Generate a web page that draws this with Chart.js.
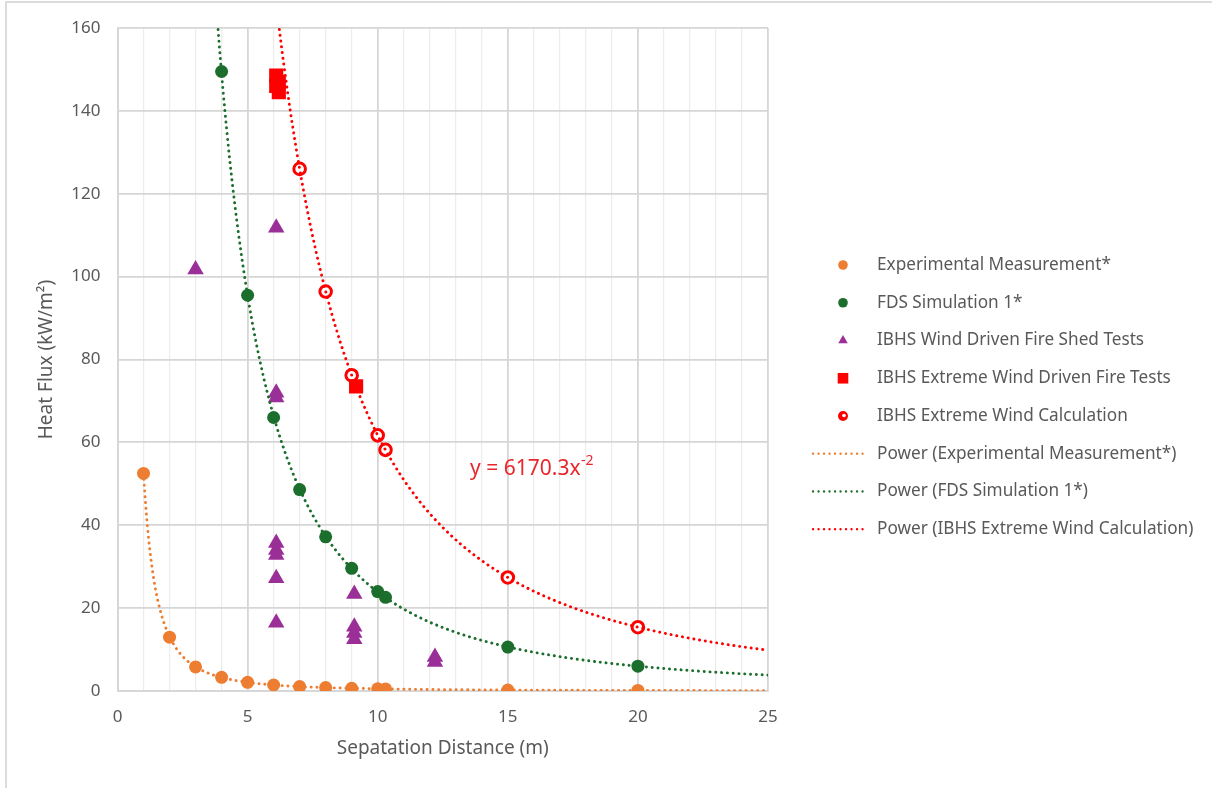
<!DOCTYPE html>
<html>
<head>
<meta charset="utf-8">
<script src="https://cdn.jsdelivr.net/npm/chart.js@4.4.1/dist/chart.umd.min.js"></script>
<style>
  body { margin: 0; background: #fff; }
  #frame { position: absolute; left: 5px; top: 1px; width: 1300px; height: 900px;
           border-top: 2px solid #dcdcdc; border-left: 2px solid #dcdcdc; }
  #chart { position: absolute; left: 0; top: 0; }
</style>
</head>
<body>
<div id="frame"></div>
<canvas id="chart" width="1212" height="788"></canvas>
<script>
// values
var expX = [1, 2, 3, 4, 5, 6, 7, 8, 9, 10, 10.3, 15, 20];
var expY = [52.5, 13, 5.8, 3.3, 2.1, 1.45, 1.07, 0.82, 0.65, 0.52, 0.5, 0.23, 0.13];

var fdsX = [4, 5, 6, 7, 8, 9, 10, 10.3, 15, 20];
var fdsY = [149.5, 95.5, 66, 48.6, 37.2, 29.6, 24, 22.6, 10.6, 6];

var shedX = [3, 6.1, 6.1, 6.1, 6.1, 6.1, 6.1, 6.1, 6.1, 9.1, 9.1, 9.1, 9.1, 12.2, 12.2];
var shedY = [101.7, 111.8, 72, 70.8, 35.7, 34, 32.8, 27.2, 16.5, 23.4, 15.5, 14, 12.5, 8.2, 7];

var fireX = [6.1, 6.1, 6.2, 6.2, 9.17];
var fireY = [148.5, 146, 144.5, 147, 73.5];

var calcX = [7, 8, 9, 10, 10.3, 15, 20];
var calcY = [126, 96.4, 76.2, 61.7, 58.2, 27.4, 15.4];

var xTicks = [0, 5, 10, 15, 20, 25];
var yTicks = [0, 20, 40, 60, 80, 100, 120, 140, 160];

var legendLabels = [
  'Experimental Measurement*',
  'FDS Simulation 1*',
  'IBHS Wind Driven Fire Shed Tests',
  'IBHS Extreme Wind Driven Fire Tests',
  'IBHS Extreme Wind Calculation',
  'Power (Experimental Measurement*)',
  'Power (FDS Simulation 1*)',
  'Power (IBHS Extreme Wind Calculation)'
];
var equationText = 'y = 6170.3x';
var equationSup = '-2';

var ORANGE = '#ed7d31';
var GREEN = '#1b6e2c';
var PURPLE = '#9a2f98';
var RED = '#ff0000';
var TEXT = '#595959';
var FONT = "'Noto Sans', 'Open Sans', sans-serif";

function toPoints(xs, ys){
  var pts = [];
  for(var i = 0; i < xs.length; i++){
    pts.push({x: xs[i], y: ys[i]});
  }
  return pts;
}

// least squares fit of y = a*x^b in log-log space (what Excel's power trendline does)
function powerTrend(xs, ys, fromX, toX){
  var n = xs.length, sx = 0, sy = 0, sxx = 0, sxy = 0;
  for(var i = 0; i < n; i++){
    var lx = Math.log(xs[i]), ly = Math.log(ys[i]);
    sx += lx; sy += ly; sxx += lx * lx; sxy += lx * ly;
  }
  var b = (n * sxy - sx * sy) / (n * sxx - sx * sx);
  var a = Math.exp((sy - b * sx) / n);
  var pts = [];
  for(var x = fromX; x <= toX + 1e-9; x += 0.05){
    pts.push({x: x, y: a * Math.pow(x, b)});
  }
  return pts;
}

function trendSet(label, color, pts){
  return {
    label: label,
    data: pts,
    showLine: true,
    pointRadius: 0,
    borderColor: color,
    backgroundColor: color,
    borderWidth: 2.9,
    borderDash: [0.1, 5.7],
    borderCapStyle: 'round',
    isTrend: true,
    order: 0
  };
}

var datasets = [
  {label: legendLabels[0], data: toPoints(expX, expY), pointStyle: 'circle', pointRadius: 6.5,
   backgroundColor: ORANGE, borderColor: ORANGE, borderWidth: 0, order: 1},
  {label: legendLabels[1], data: toPoints(fdsX, fdsY), pointStyle: 'circle', pointRadius: 6.5,
   backgroundColor: GREEN, borderColor: GREEN, borderWidth: 0, order: 1},
  {label: legendLabels[2], data: toPoints(shedX, shedY), pointStyle: 'triangle', pointRadius: 9.5,
   backgroundColor: PURPLE, borderColor: PURPLE, borderWidth: 0, order: 1},
  {label: legendLabels[3], data: toPoints(fireX, fireY), pointStyle: 'rect', pointRadius: 10,
   backgroundColor: RED, borderColor: RED, borderWidth: 0, order: 1},
  {label: legendLabels[4], data: toPoints(calcX, calcY), pointStyle: 'circle', pointRadius: 5.8,
   backgroundColor: '#ffffff', borderColor: RED, borderWidth: 3, order: 1},
  trendSet(legendLabels[5], ORANGE, powerTrend(expX, expY, 1, 25)),
  trendSet(legendLabels[6], GREEN, powerTrend(fdsX, fdsY, 3.5, 25)),
  trendSet(legendLabels[7], RED, powerTrend(calcX, calcY, 5.5, 25))
];

// legend drawn on the right, Excel style
var sideLegend = {
  id: 'sideLegend',
  afterDraw: function(chart){
    var ctx = chart.ctx;
    var sets = chart.data.datasets;
    var markX = 843, lineX0 = 813, lineX1 = 867, textX = 877, y0 = 265, step = 37.75;
    ctx.save();
    for(var i = 0; i < sets.length; i++){
      var ds = sets[i];
      var y = y0 + i * step;
      if(ds.isTrend){
        ctx.strokeStyle = ds.borderColor;
        ctx.lineWidth = 2.3;
        ctx.lineCap = 'round';
        ctx.setLineDash([0.1, 5.4]);
        ctx.beginPath();
        ctx.moveTo(lineX0, y);
        ctx.lineTo(lineX1, y);
        ctx.stroke();
        ctx.setLineDash([]);
      }
      else if(i == 4){
        ctx.fillStyle = RED;
        ctx.beginPath(); ctx.arc(markX, y, 5, 0, Math.PI * 2); ctx.fill();
        ctx.fillStyle = '#ffffff';
        ctx.beginPath(); ctx.arc(markX + 1, y - 0.5, 1.8, 0, Math.PI * 2); ctx.fill();
      }
      else{
        var r = ds.pointStyle == 'rect' ? 7.5 : (ds.pointStyle == 'triangle' ? 5.5 : 4.8);
        ctx.fillStyle = ds.backgroundColor;
        Chart.helpers.drawPoint(ctx, {pointStyle: ds.pointStyle, radius: r, rotation: 0, borderWidth: 0}, markX, y);
      }
      ctx.fillStyle = TEXT;
      ctx.font = '17.2px ' + FONT;
      ctx.textAlign = 'left';
      ctx.textBaseline = 'middle';
      ctx.fillText(ds.label, textX, y);
    }
    ctx.restore();
  }
};

// trendline equation label
var equationLabel = {
  id: 'equationLabel',
  afterDatasetsDraw: function(chart){
    var ctx = chart.ctx;
    var px = chart.scales.x.getPixelForValue(13.55);
    var py = chart.scales.y.getPixelForValue(53.6);
    ctx.save();
    ctx.fillStyle = '#e8262b';
    ctx.textAlign = 'left';
    ctx.textBaseline = 'middle';
    ctx.font = '21px ' + FONT;
    ctx.fillText(equationText, px, py);
    var w = ctx.measureText(equationText).width;
    ctx.font = '14px ' + FONT;
    ctx.fillText(equationSup, px + w + 0.5, py - 8);
    ctx.restore();
  }
};

new Chart(document.getElementById('chart'), {
  type: 'scatter',
  data: {datasets: datasets},
  options: {
    responsive: false,
    animation: false,
    layout: {padding: {left: 0, right: 444, top: 28, bottom: 0}},
    plugins: {legend: {display: false}, tooltip: {enabled: false}},
    scales: {
      x: {
        type: 'linear', min: 0, max: 25,
        afterFit: function(scale){ scale.height = 97; scale.paddingLeft = 0; scale.paddingRight = 0; },
        afterBuildTicks: function(scale){
          var t = [];
          for(var v = 0; v <= 25; v++) t.push({value: v});
          scale.ticks = t;
        },
        ticks: {
          autoSkip: false, maxRotation: 0, padding: 16, color: TEXT,
          font: {family: FONT, size: 17},
          callback: function(v){ return xTicks.indexOf(v) >= 0 ? String(v) : ''; }
        },
        grid: {
          drawTicks: false,
          color: function(c){ return xTicks.indexOf(c.tick.value) >= 0 ? '#d6d6d6' : '#ececec'; },
          lineWidth: function(c){ return xTicks.indexOf(c.tick.value) >= 0 ? 1.8 : 1.2; }
        },
        border: {color: '#d6d6d6', width: 1.8},
        title: {display: true, text: 'Sepatation Distance (m)', color: TEXT,
                font: {family: FONT, size: 19}, padding: {top: 0, bottom: 28.5}}
      },
      y: {
        min: 0, max: 160,
        afterFit: function(scale){ scale.width = 117.5; scale.paddingTop = 0; scale.paddingBottom = 0; },
        afterBuildTicks: function(scale){
          scale.ticks = yTicks.map(function(v){ return {value: v}; });
        },
        ticks: {padding: 17, color: TEXT, font: {family: FONT, size: 17}},
        grid: {drawTicks: false, color: '#d6d6d6', lineWidth: 1.8},
        border: {color: '#d6d6d6', width: 1.8},
        title: {display: true, text: 'Heat Flux (kW/m²)', color: TEXT,
                font: {family: FONT, size: 19}, padding: {top: 35.5, bottom: 0}}
      }
    }
  },
  plugins: [sideLegend, equationLabel]
});
</script>
</body>
</html>
